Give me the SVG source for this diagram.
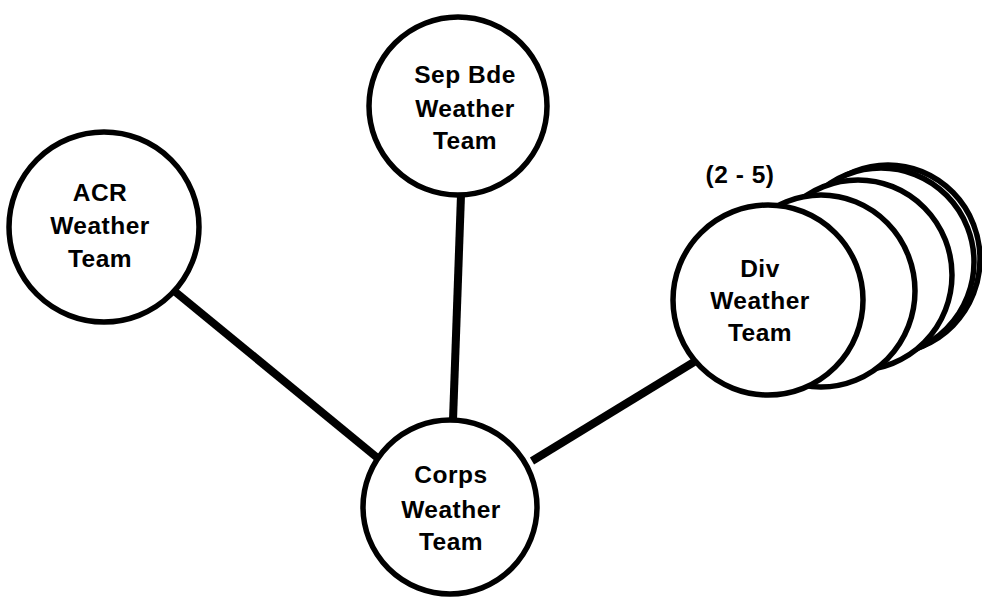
<svg xmlns="http://www.w3.org/2000/svg" width="982" height="601" viewBox="0 0 982 601">
<style>
.c{fill:#fff;stroke:#000;stroke-width:5.5}
.t{font-family:"Liberation Sans",Arial,sans-serif;font-weight:bold;font-size:24.5px;letter-spacing:0.5px;text-anchor:middle;fill:#000}
.e{stroke:#000;stroke-width:8;fill:none}
</style>
<rect width="982" height="601" fill="#fff"/>
<g id="connectors">
<line class="e" x1="173" y1="290" x2="380" y2="460"/>
<line class="e" x1="461" y1="195" x2="453" y2="420"/>
<line class="e" x1="694" y1="362" x2="532" y2="461"/>
</g>
<g id="acr">
<circle class="c" cx="104" cy="227" r="95"/>
<text class="t" x="100" y="201">ACR</text>
<text class="t" x="100" y="234">Weather</text>
<text class="t" x="100" y="267">Team</text>
</g>
<g id="sepbde">
<circle class="c" cx="458" cy="106" r="89"/>
<text class="t" x="465" y="83">Sep Bde</text>
<text class="t" x="465" y="117">Weather</text>
<text class="t" x="465" y="149">Team</text>
</g>
<g id="corps">
<circle class="c" cx="450" cy="507" r="87"/>
<text class="t" x="451" y="483">Corps</text>
<text class="t" x="451" y="518">Weather</text>
<text class="t" x="451" y="550">Team</text>
</g>
<g id="div">
<ellipse class="c" cx="888" cy="259" rx="92" ry="94"/>
<ellipse class="c" cx="881" cy="262" rx="93" ry="94"/>
<ellipse class="c" cx="858" cy="275" rx="94" ry="95"/>
<ellipse class="c" cx="821" cy="291" rx="94" ry="96"/>
<circle class="c" cx="768" cy="300" r="95"/>
<text class="t" x="760" y="277">Div</text>
<text class="t" x="760" y="309">Weather</text>
<text class="t" x="760" y="341">Team</text>
<text class="t" x="740" y="183">(2 - 5)</text>
</g>
</svg>
